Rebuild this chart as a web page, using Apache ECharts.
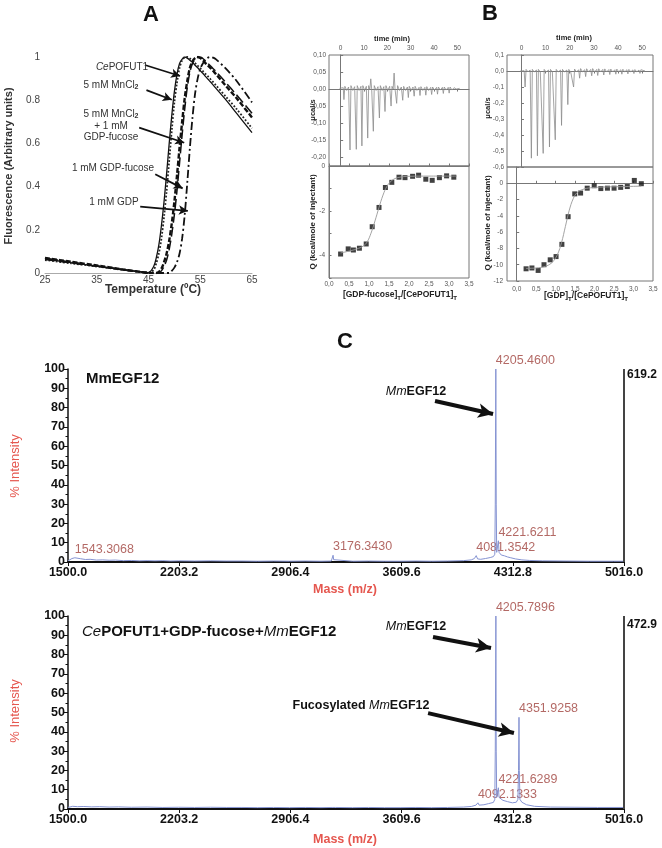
<!DOCTYPE html>
<html><head><meta charset="utf-8">
<script src="https://cdn.jsdelivr.net/npm/echarts@6/dist/echarts.min.js"></script>
<style>html,body{margin:0;padding:0;background:#fff}#c{width:662px;height:848px}</style>
</head><body><div id="c"></div>
<script>
// ---------- Panel A : thermal shift ----------
const tempsA = [25,30,35,40,44,45,46,46.5,47,47.5,48,48.5,49,49.5,50,50.5,51,51.5,52,52.5,53,53.5,54,54.5,55,55.5,56,56.5,57,57.5,58,60,62,65];
const cePOFUT1 = [0.065,0.048,0.032,0.016,0.004,0.002,0.03,0.07,0.13,0.22,0.33,0.46,0.60,0.73,0.84,0.92,0.97,0.99,1.0,0.995,0.985,0.975,0.962,0.95,0.937,0.925,0.91,0.897,0.884,0.87,0.856,0.80,0.74,0.65];
const mnCl2 = [0.06,0.045,0.03,0.015,0.004,0.002,0.015,0.045,0.09,0.16,0.26,0.38,0.52,0.66,0.79,0.88,0.95,0.985,0.998,1.0,0.993,0.983,0.972,0.96,0.948,0.935,0.922,0.91,0.897,0.884,0.87,0.815,0.76,0.67];
const mnCl2GdpFuc = [0.07,0.052,0.035,0.017,0.003,0.0,0.0,0.0,0.005,0.02,0.05,0.09,0.15,0.23,0.33,0.45,0.58,0.70,0.81,0.89,0.95,0.98,0.995,1.0,0.995,0.985,0.972,0.96,0.948,0.935,0.922,0.865,0.81,0.72];
const gdpFuc = [0.062,0.047,0.031,0.015,0.003,0.0,0.0,0.0,0.0,0.01,0.03,0.06,0.11,0.18,0.27,0.38,0.51,0.64,0.76,0.86,0.93,0.97,0.99,0.998,1.0,0.993,0.982,0.97,0.958,0.946,0.934,0.88,0.825,0.74];
const gdpOnly = [0.068,0.05,0.033,0.016,0.003,0.0,0.0,0.0,0.0,0.0,0.0,0.0,0.0,0.01,0.025,0.05,0.09,0.16,0.27,0.42,0.58,0.72,0.83,0.9,0.945,0.97,0.987,0.997,1.0,0.997,0.99,0.945,0.89,0.79];

// ---------- Panel B : ITC ----------
const timeTicks = [0,10,20,30,40,50];
const fucTrace = [[-0.5,0.002],[0.3,-0.003],[1.1,0.004],[1.4,-0.031],[1.8,0.008],[2.6,-0.004],[3.4,0.006],
[3.7,0.005],[4.0,-0.179],[4.4,0.01],[5.2,-0.004],[6.0,0.007],
[6.4,0.005],[6.7,-0.177],[7.1,0.01],[7.9,-0.004],[8.7,0.008],
[8.8,0.005],[9.1,-0.167],[9.5,0.01],[10.3,-0.004],[11.0,0.008],
[11.3,0.005],[11.6,-0.144],[12.0,0.01],[12.5,-0.002],[12.9,0.03],[13.3,0.0],[13.7,0.005],
[14.0,-0.124],[14.4,0.01],[15.2,-0.004],[16.0,0.007],
[16.3,0.005],[16.6,-0.085],[17.0,0.01],[17.8,-0.004],[18.5,0.007],
[18.7,0.005],[19.0,-0.066],[19.4,0.01],[20.2,-0.004],[21.0,0.008],
[21.3,0.005],[21.6,-0.05],[22.0,0.008],[22.5,0.0],[22.9,0.047],[23.3,0.0],[23.7,0.005],
[24.0,-0.042],[24.4,0.01],[25.2,-0.004],[26.0,0.006],
[26.3,0.004],[26.6,-0.033],[27.0,0.008],[27.8,-0.004],[28.6,0.006],
[28.7,0.004],[29.0,-0.025],[29.4,0.008],[30.2,-0.004],[31.0,0.006],
[31.2,0.004],[31.5,-0.021],[31.9,0.008],[32.7,-0.004],[33.6,0.005],
[33.7,0.004],[34.0,-0.019],[34.4,0.007],[35.2,-0.004],[36.1,0.005],
[36.2,0.004],[36.5,-0.018],[36.9,0.007],[37.7,-0.004],[38.6,0.005],
[38.7,0.004],[39.0,-0.016],[39.4,0.006],[40.2,-0.003],[41.1,0.005],
[41.2,0.004],[41.5,-0.015],[41.9,0.006],[42.7,-0.003],[43.6,0.005],
[43.7,0.004],[44.0,-0.013],[44.4,0.006],[45.2,-0.003],[46.1,0.005],
[46.2,0.004],[46.5,-0.012],[46.9,0.006],[47.7,-0.003],[48.6,0.004],[49.5,0.0],[51.0,0.002]];
const gdpTrace = [[-0.5,0.0],[1.1,0.002],[1.5,-0.10],[1.9,0.01],[2.7,-0.005],[3.6,0.006],
[3.8,0.004],[4.1,-0.545],[4.5,0.01],[5.3,-0.006],[6.2,0.006],
[6.3,0.004],[6.6,-0.53],[7.0,0.01],[7.8,-0.006],[8.6,0.006],
[8.7,0.004],[9.0,-0.515],[9.4,0.01],[10.2,-0.006],[11.2,0.006],
[11.3,0.004],[11.6,-0.475],[12.0,0.01],[12.8,-0.006],[13.6,0.006],
[13.7,0.004],[14.0,-0.43],[14.4,0.01],[15.2,-0.006],[16.2,0.006],
[16.3,0.004],[16.6,-0.34],[17.0,0.01],[17.8,-0.006],[18.8,0.006],
[18.9,0.004],[19.2,-0.21],[19.6,0.01],[20.4,-0.006],[21.2,0.006],
[21.3,0.004],[21.6,-0.10],[22.0,0.012],[22.8,-0.006],[23.7,0.008],
[23.8,0.005],[24.1,-0.045],[24.5,0.015],[25.3,-0.005],[26.2,0.008],
[26.3,0.005],[26.6,-0.035],[27.0,0.014],[27.8,-0.006],[28.7,0.01],
[28.8,0.005],[29.1,-0.03],[29.5,0.015],[30.3,-0.006],[31.2,0.01],
[31.3,0.005],[31.6,-0.028],[32.0,0.014],[32.8,-0.006],[33.7,0.01],
[33.8,0.005],[34.1,-0.025],[34.5,0.013],[35.3,-0.006],[36.2,0.009],
[36.3,0.005],[36.6,-0.022],[37.0,0.012],[37.8,-0.006],[38.7,0.008],
[38.8,0.005],[39.1,-0.02],[39.5,0.012],[40.3,-0.005],[41.2,0.008],
[41.3,0.005],[41.6,-0.02],[42.0,0.011],[42.8,-0.005],[43.7,0.008],
[43.8,0.005],[44.1,-0.018],[44.5,0.01],[45.3,-0.005],[46.2,0.007],
[46.3,0.004],[46.6,-0.016],[47.0,0.009],[47.8,-0.005],[48.7,0.006],
[48.8,0.004],[49.1,-0.015],[49.5,0.008],[50.3,-0.004],[51.2,0.0]];
const fucRatio = [0.29,0.48,0.61,0.76,0.93,1.08,1.25,1.41,1.57,1.75,1.90,2.09,2.24,2.42,2.58,2.76,2.94,3.12];
const fucQ = [-3.93,-3.70,-3.75,-3.67,-3.48,-2.71,-1.85,-0.96,-0.73,-0.50,-0.52,-0.46,-0.41,-0.59,-0.64,-0.52,-0.44,-0.50];
const fucFitX = [0.29,0.5,0.7,0.85,0.95,1.05,1.15,1.25,1.35,1.45,1.55,1.65,1.8,2.0,2.5,3.2];
const fucFitQ = [-3.88,-3.8,-3.7,-3.58,-3.4,-3.0,-2.45,-1.85,-1.3,-0.9,-0.68,-0.56,-0.49,-0.46,-0.45,-0.45];
const gdpRatio = [0.24,0.39,0.55,0.70,0.86,1.01,1.16,1.32,1.49,1.64,1.81,1.99,2.16,2.33,2.50,2.67,2.84,3.02,3.20];
const gdpQ = [-10.5,-10.4,-10.7,-10.0,-9.4,-9.0,-7.5,-4.1,-1.3,-1.2,-0.6,-0.3,-0.65,-0.6,-0.6,-0.5,-0.4,0.35,-0.05];
const gdpFitX = [0.24,0.5,0.7,0.85,0.95,1.05,1.15,1.25,1.35,1.45,1.55,1.7,1.9,2.3,2.8,3.2];
const gdpFitQ = [-10.45,-10.4,-10.25,-9.95,-9.5,-8.7,-7.3,-5.3,-3.3,-1.9,-1.15,-0.75,-0.55,-0.45,-0.4,-0.35];

// ---------- Panel C : MALDI spectra ----------
const massTicks = [1500,2203.2,2906.4,3609.6,4312.8,5016];
const msTop = [[1500,0.6],[1510,1.4],[1525,1.8],[1543.3,2.2],[1555,1.5],[1580,1.7],[1610,1.3],[1640,1.4],[1680,1.0],[1720,1.1],[1760,0.9],[1800,1.0],[1850,0.7],[1900,0.8],[1950,0.6],[2000,0.7],[2050,0.6],[2100,0.7],[2150,0.5],[2200,0.6],[2300,0.5],[2400,0.6],[2500,0.5],[2600,0.5],[2700,0.4],[2800,0.5],[2900,0.4],[3000,0.5],[3100,0.4],[3165,0.5],[3172,1.5],[3176.3,3.5],[3180,1.2],[3190,0.5],[3300,0.4],[3400,0.5],[3500,0.4],[3600,0.4],[3700,0.5],[3800,0.4],[3900,0.5],[4000,0.7],[4050,1.1],[4070,1.8],[4081.4,3.3],[4090,1.6],[4110,1.4],[4140,1.8],[4170,2.3],[4190,2.8],[4199,4],[4202,30],[4205.46,100],[4208,30],[4211,5],[4216,6],[4221.62,11],[4226,5],[4240,3.6],[4260,3.2],[4280,2.6],[4300,2.2],[4330,1.6],[4370,1.1],[4420,0.8],[4500,0.6],[4650,0.5],[4800,0.4],[4950,0.4],[5016,0.4]];
const msBottom = [[1500,0.8],[1530,1.4],[1560,1.2],[1600,1.3],[1650,1.1],[1700,1.2],[1760,1.0],[1820,1.1],[1900,0.9],[2000,1.0],[2100,0.8],[2200,0.9],[2300,0.8],[2400,0.9],[2500,0.8],[2600,0.8],[2700,0.7],[2800,0.8],[2900,0.7],[3000,0.8],[3100,0.7],[3170,0.8],[3180,1.6],[3190,0.8],[3300,0.7],[3400,0.8],[3500,0.7],[3600,0.7],[3700,0.8],[3800,0.7],[3900,0.8],[4000,1.0],[4050,1.3],[4080,2.0],[4092.1,3.2],[4100,2.0],[4130,2.2],[4160,2.8],[4190,3.4],[4199,5],[4202,30],[4205.79,100],[4208,30],[4211,6],[4216,7],[4221.63,11],[4226,6],[4250,4.5],[4280,3.8],[4310,3.2],[4335,3.5],[4345,5],[4349,20],[4351.93,47.5],[4354,20],[4358,5],[4370,3.5],[4400,2.2],[4450,1.4],[4550,1.0],[4700,0.9],[4850,0.8],[5016,0.8]];
const topLabelMz = [1543.3068,3176.3430,4081.3542,4205.4600,4221.6211];
const topLabelInt = [2.2,3.5,3.3,100,11];
const botLabelMz = [4092.1333,4205.7896,4221.6289,4351.9258];
const botLabelInt = [3.2,100,11,47.5];

// ---------- annotation arrows (data coordinates) ----------
const arrowsA = [[44.3,0.963,51.1,0.912],[44.6,0.847,49.5,0.802],[43.2,0.673,51.9,0.603],[46.3,0.457,51.6,0.392],[43.4,0.307,52.6,0.288]];
const arrowsTop = [[3821,83.4,4188,76.7]];
const arrowsBot = [[3808,89.1,4175,83.4],[3777,49.7,4320,39.4]];

const F = 'Liberation Sans, Arial, Helvetica, sans-serif';
const zip = (a,b) => a.map((v,i)=>[v,b[i]]);
const comma = (v,d) => v.toFixed(d).replace('.',',');

function arrowLines(list, w, size) {
  return {
    silent:true, animation:false, symbol:['none','arrow'], symbolSize:size,
    label:{show:false}, lineStyle:{color:'#111', width:w, type:'solid'},
    emphasis:{disabled:true},
    data: list.map(a=>[{coord:[a[0],a[1]]},{coord:[a[2],a[3]]}])
  };
}

const itcLab = {fontSize:6.5, color:'#555', fontFamily:F};
const itcLine = {lineStyle:{color:'#777', width:1}};
const itcTick = {inside:true, length:2.5, lineStyle:{color:'#777'}};

const xAxis = [
  {gridIndex:0, type:'value', min:25, max:65, interval:10,
   axisLine:{show:true, lineStyle:{color:'#aaa'}}, axisTick:{show:false}, splitLine:{show:false},
   axisLabel:{fontSize:10, color:'#444', fontFamily:F, margin:2}},
  {gridIndex:1, type:'value', position:'top', min:-5, max:55, axisLine:itcLine,
   axisTick:Object.assign({customValues:timeTicks}, itcTick), splitLine:{show:false},
   axisLabel:Object.assign({customValues:timeTicks, margin:3}, itcLab)},
  {gridIndex:2, type:'value', min:0, max:3.5, interval:0.5, axisLine:itcLine, axisTick:itcTick, splitLine:{show:false},
   axisLabel:Object.assign({margin:3, formatter:v=>comma(v,1)}, itcLab)},
  {gridIndex:3, type:'value', position:'top', min:-6, max:54.5, axisLine:itcLine,
   axisTick:Object.assign({customValues:timeTicks}, itcTick), splitLine:{show:false},
   axisLabel:Object.assign({customValues:timeTicks, margin:3}, itcLab)},
  {gridIndex:4, type:'value', min:-0.25, max:3.5, axisLine:itcLine,
   axisTick:Object.assign({customValues:[0,0.5,1,1.5,2,2.5,3,3.5]}, itcTick), splitLine:{show:false},
   axisLabel:Object.assign({customValues:[0,0.5,1,1.5,2,2.5,3,3.5], margin:5, formatter:v=>comma(v,1)}, itcLab)},
];
const msX = gi => ({gridIndex:gi, type:'value', min:1500, max:5016,
   axisLine:{lineStyle:{color:'#111', width:2}},
   axisTick:{customValues:massTicks, length:4, lineStyle:{color:'#111'}}, splitLine:{show:false},
   axisLabel:{customValues:massTicks, formatter:v=>v.toFixed(1), fontSize:12.5, fontWeight:'bold', color:'#111', fontFamily:F, margin:4}});
xAxis.push(msX(5), msX(6));

const yAxis = [
  {gridIndex:0, type:'value', min:0, max:1, interval:0.2, axisLine:{show:false}, axisTick:{show:false}, splitLine:{show:false},
   axisLabel:{fontSize:10, color:'#444', fontFamily:F, margin:5, formatter:v=>(v===0?'0':v===1?'1':v.toFixed(1))}},
  {gridIndex:1, type:'value', min:-0.226, max:0.10, axisLine:itcLine,
   axisTick:Object.assign({customValues:[0.10,0.05,0,-0.05,-0.10,-0.15,-0.20]}, itcTick), splitLine:{show:false},
   axisLabel:Object.assign({customValues:[0.10,0.05,0,-0.05,-0.10,-0.15,-0.20], margin:3, formatter:v=>comma(v,2)}, itcLab)},
  {gridIndex:2, type:'value', min:-5, max:0, interval:1, axisLine:itcLine, axisTick:itcTick, splitLine:{show:false},
   axisLabel:Object.assign({customValues:[0,-2,-4], margin:4}, itcLab)},
  {gridIndex:3, type:'value', min:-0.6, max:0.1, axisLine:itcLine,
   axisTick:Object.assign({customValues:[0.1,0,-0.1,-0.2,-0.3,-0.4,-0.5,-0.6]}, itcTick), splitLine:{show:false},
   axisLabel:Object.assign({customValues:[0.1,0,-0.1,-0.2,-0.3,-0.4,-0.5,-0.6], margin:3, formatter:v=>comma(v,1)}, itcLab)},
  {gridIndex:4, type:'value', min:-12, max:2, interval:2, axisLine:itcLine, axisTick:itcTick, splitLine:{show:false},
   axisLabel:Object.assign({customValues:[-12,-10,-8,-6,-4,-2,0], margin:4}, itcLab)},
];
const msY = gi => ({gridIndex:gi, type:'value', min:0, max:100, interval:10,
   axisLine:{show:true, lineStyle:{color:'#111', width:1.5}},
   axisTick:{length:4, lineStyle:{color:'#111'}}, minorTick:{show:true, splitNumber:2, length:2.5, lineStyle:{color:'#111'}},
   splitLine:{show:false},
   axisLabel:{fontSize:12.5, fontWeight:'bold', color:'#111', fontFamily:F, margin:3}});
yAxis.push(msY(5), msY(6));

const gbase = {outerBoundsMode:'none', containLabel:false};
const box = {show:true, borderColor:'#777', borderWidth:1, backgroundColor:'transparent'};
const grid = [
  Object.assign({left:45, top:57, width:207, height:216}, gbase),
  Object.assign({left:329, top:55, width:140, height:111}, gbase, box),
  Object.assign({left:329, top:166, width:140, height:112}, gbase, box),
  Object.assign({left:507, top:55, width:146, height:112}, gbase, box),
  Object.assign({left:507, top:167, width:146, height:114}, gbase, box),
  Object.assign({left:68, top:369, width:556, height:193}, gbase),
  Object.assign({left:68, top:616, width:556, height:193}, gbase),
];

function meltLine(name, vals, ls) {
  return {name, type:'line', xAxisIndex:0, yAxisIndex:0, data:zip(tempsA, vals), showSymbol:false,
    smooth:0.3, lineStyle:ls, silent:true, z:3};
}
const series = [
  Object.assign(meltLine('CePOFUT1', cePOFUT1, {color:'#111', width:1.3, type:'solid'}), {markLine:arrowLines(arrowsA, 1.8, [7,9])}),
  meltLine('5 mM MnCl2', mnCl2, {color:'#222', width:1.8, type:'dotted'}),
  meltLine('5 mM MnCl2 + 1 mM GDP-fucose', mnCl2GdpFuc, {color:'#111', width:2.4, type:[5,2]}),
  meltLine('1 mM GDP-fucose', gdpFuc, {color:'#111', width:1.5, type:[10,4]}),
  meltLine('1 mM GDP', gdpOnly, {color:'#111', width:1.8, type:[8,3,2,3]}),
  {type:'line', xAxisIndex:1, yAxisIndex:1, data:fucTrace, showSymbol:false, lineStyle:{color:'#8c8c8c', width:0.8}, silent:true},
  {type:'line', xAxisIndex:3, yAxisIndex:3, data:gdpTrace, showSymbol:false, lineStyle:{color:'#8c8c8c', width:0.8}, silent:true},
  {type:'line', xAxisIndex:2, yAxisIndex:2, data:zip(fucFitX, fucFitQ), showSymbol:false, smooth:0.4, lineStyle:{color:'#999', width:0.9}, silent:true},
  {type:'scatter', xAxisIndex:2, yAxisIndex:2, data:zip(fucRatio, fucQ), symbol:'rect', symbolSize:5, itemStyle:{color:'#111'}, silent:true},
  {type:'line', xAxisIndex:4, yAxisIndex:4, data:zip(gdpFitX, gdpFitQ), showSymbol:false, smooth:0.4, lineStyle:{color:'#999', width:0.9}, silent:true},
  {type:'scatter', xAxisIndex:4, yAxisIndex:4, data:zip(gdpRatio, gdpQ), symbol:'rect', symbolSize:5, itemStyle:{color:'#111'}, silent:true},
];
function spectrum(gi, data, arrows, lblMz, lblInt) {
  series.push({type:'line', xAxisIndex:gi, yAxisIndex:gi, data, showSymbol:false, sampling:null,
    lineStyle:{color:'#8593d2', width:1}, silent:true,
    markLine:{silent:true, symbol:'none', label:{show:false}, lineStyle:{color:'#444', width:2, type:'solid'},
      data:[{xAxis:5016}]}});
  series.push({type:'scatter', xAxisIndex:gi, yAxisIndex:gi, data:zip(lblMz, lblInt), symbolSize:0, silent:true,
    label:{show:true, position:[0,-2], align:'left', verticalAlign:'bottom', fontSize:12.5, color:'#a0433e', fontFamily:F,
      formatter:p=>p.value[0].toFixed(4)},
    markLine:arrowLines(arrows, 4, [11,15])});
}
spectrum(5, msTop, arrowsTop, topLabelMz, topLabelInt);
spectrum(6, msBottom, arrowsBot, botLabelMz, botLabelInt);

function T(x, y, text, o) {
  o = o || {};
  const el = {type:'text', x, y, silent:true, z:100,
    style:{text, fontFamily:F, fontSize:o.size||10, fontWeight:o.weight||'normal', fontStyle:o.style||'normal',
      fill:o.fill||'#222', align:o.align||'center', verticalAlign:'middle', rich:o.rich}};
  if (o.rot) el.rotation = o.rot;
  return el;
}
const richA = {
  n:{fontFamily:F, fontSize:10, fill:'#333', color:'#333', lineHeight:12},
  i:{fontFamily:F, fontSize:10, fontStyle:'italic', fill:'#333', color:'#333', lineHeight:12},
  s:{fontFamily:F, fontSize:7, fontWeight:'bold', fill:'#333', color:'#333', lineHeight:12, verticalAlign:'bottom'}
};
const subT = sz => ({
  a:{fontFamily:F, fontSize:sz, fontWeight:'bold', fill:'#222', color:'#222', lineHeight:sz+4},
  s:{fontFamily:F, fontSize:sz*0.72, fontWeight:'bold', fill:'#222', color:'#222', lineHeight:sz+4, verticalAlign:'bottom'}
});
const richMS = sz => ({
  b:{fontFamily:F, fontSize:sz, fontWeight:'bold', fill:'#111', color:'#111'},
  i:{fontFamily:F, fontSize:sz, fontStyle:'italic', fill:'#111', color:'#111'}
});
const red = '#e5574f';
const graphic = [
  T(151, 15, 'A', {size:22, weight:'bold', fill:'#111'}),
  T(490, 14, 'B', {size:22, weight:'bold', fill:'#111'}),
  T(345, 342, 'C', {size:22, weight:'bold', fill:'#111'}),
  // Panel A
  T(9, 166, 'Fluorescence (Arbitrary units)', {size:11, weight:'bold', fill:'#333', rot:Math.PI/2}),
  T(153, 290, 'Temperature (ºC)', {size:12, weight:'bold', fill:'#333'}),
  T(122, 67, '{i|Ce}{n|POFUT1}', {rich:richA}),
  T(111, 85, '{n|5 mM MnCl}{s|2}', {rich:richA}),
  T(111, 114, '{n|5 mM MnCl}{s|2}', {rich:richA}),
  T(111, 126, '+ 1 mM', {fill:'#333'}),
  T(111, 137, 'GDP-fucose', {fill:'#333'}),
  T(113, 168, '1 mM GDP-fucose', {fill:'#333'}),
  T(114, 202, '1 mM GDP', {fill:'#333'}),
  // Panel B
  T(392, 39, 'time (min)', {size:7.5, weight:'bold'}),
  T(574, 38, 'time (min)', {size:7.5, weight:'bold'}),
  T(313, 110, 'μcal/s', {size:7.5, weight:'bold', rot:Math.PI/2}),
  T(488, 108, 'μcal/s', {size:7.5, weight:'bold', rot:Math.PI/2}),
  T(313, 222, 'Q (kcal/mole of injectant)', {size:8, weight:'bold', rot:Math.PI/2}),
  T(488, 223, 'Q (kcal/mole of injectant)', {size:8, weight:'bold', rot:Math.PI/2}),
  T(400, 295, '{a|[GDP-fucose]}{s|T}{a|/[CePOFUT1]}{s|T}', {rich:subT(8.5)}),
  T(586, 296, '{a|[GDP]}{s|T}{a|/[CePOFUT1]}{s|T}', {rich:subT(8.5)}),
  // Panel C
  T(15, 466, '% Intensity', {size:13, fill:red, rot:Math.PI/2}),
  T(15, 711, '% Intensity', {size:13, fill:red, rot:Math.PI/2}),
  T(345, 590, 'Mass (m/z)', {size:12.5, weight:'bold', fill:red}),
  T(345, 840, 'Mass (m/z)', {size:12.5, weight:'bold', fill:red}),
  T(86, 379, 'MmEGF12', {size:15, weight:'bold', fill:'#111', align:'left'}),
  T(627, 375, '619.2', {size:12, weight:'bold', fill:'#111', align:'left'}),
  T(627, 625, '472.9', {size:12, weight:'bold', fill:'#111', align:'left'}),
  T(416, 392, '{i|Mm}{b|EGF12}', {rich:richMS(12.5)}),
  T(416, 627, '{i|Mm}{b|EGF12}', {rich:richMS(12.5)}),
  T(361, 706, '{b|Fucosylated }{i|Mm}{b|EGF12}', {rich:richMS(12.5)}),
  T(82, 632, '{i|Ce}{b|POFUT1+GDP-fucose+}{i|Mm}{b|EGF12}', {align:'left', rich:richMS(15)}),
];

const chart = echarts.init(document.getElementById('c'), null, {renderer:'canvas'});
chart.setOption({
  animation:false, backgroundColor:'#fff',
  textStyle:{fontFamily:F},
  grid, xAxis, yAxis, series, graphic
});
</script></body></html>
